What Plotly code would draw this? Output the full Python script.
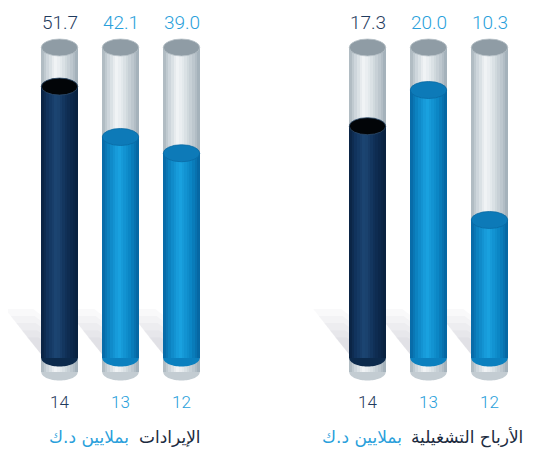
import numpy as np
import plotly.graph_objects as go

# ---------------- data ----------------
years = ["14", "13", "12"]
revenue = [51.7, 42.1, 39.0]          # الإيرادات بملايين د.ك
op_profit = [17.3, 20.0, 10.3]        # الأرباح التشغيلية بملايين د.ك
title_rev = "الإيرادات"
title_op = "الأرباح التشغيلية"
title_unit = "بملايين د.ك"

# ---------------- style / layout (window px, page has 8px body margin) ----------------
PM = 8.0                      # default page body margin
NAVY_TXT = "#1f3b5e"
BLUE_TXT = "#2a9fdb"
DARK_TXT = "#1c2b40"
PLOT_H = 382.0                # plot area height (figure px)
ZERO_PX = 358.0 - PM          # where value 0 sits
TOP_CAP_PX = 47.5 - PM        # tube top cap centre
LABEL_PX = 22.5 - PM          # value label centre
TITLE_PX = 437.0 - PM
SPACING_PX = 61.0
TUBE_W_PX = 36.5
CAP_RY_PX = 8.5
BASE_DROP_PX = 14.0
N_STRIPS = 14

panels = [
    dict(vals=revenue, ppu=5.25, xa="x", ya="y", xdom=[0, 0.5], center0=59.5 - PM,
         title=title_rev, t_right=203 - PM, u_right=131 - PM),
    dict(vals=op_profit, ppu=13.4, xa="x2", ya="y2", xdom=[0.5, 1], center0=367.5 - PM,
         title=title_op, t_right=525 - PM, u_right=404 - PM),
]


def grad(stops, t):
    ts = [s[0] for s in stops]
    cols = np.array([[int(s[1][i:i + 2], 16) for i in (1, 3, 5)] for s in stops], float)
    rgb = [np.interp(t, ts, cols[:, k]) for k in range(3)]
    return "rgb(%d,%d,%d)" % tuple(int(round(c)) for c in rgb)


GRAY = [(0, "#a9b5bd"), (0.15, "#c9d2d8"), (0.38, "#f1f4f6"), (0.55, "#e2e8eb"), (0.85, "#b9c4cb"), (1, "#9fadb6")]
NAVY = [(0, "#0a2240"), (0.2, "#123560"), (0.42, "#1c4673"), (0.7, "#0f2e55"), (1, "#08203d")]
BLUE = [(0, "#0767a3"), (0.2, "#0d85c4"), (0.45, "#1aa2e0"), (0.75, "#0b86c5"), (1, "#05639f")]

fig = go.Figure()
shapes = []
annotations = []

for p in panels:
    ppu = p["ppu"]
    vals = p["vals"]
    xs = list(range(len(vals)))
    W = TUBE_W_PX / SPACING_PX
    rx = W / 2
    ry = CAP_RY_PX / ppu
    tube_max = (ZERO_PX - TOP_CAP_PX) / ppu
    base = -BASE_DROP_PX / ppu
    sw = W / N_STRIPS

    # soft diagonal shadows to the left of each tube
    for f in [1.0, 0.85, 0.7, 0.55, 0.4]:
        for x in xs:
            L = x - rx
            y0 = 2.0 / ppu
            pts = [(L + 0.02, y0), (L - 36 * f / SPACING_PX, y0 + 47 * f / ppu),
                   (L - 8 * f / SPACING_PX, y0 + 47 * f / ppu), (L + 0.02, y0 + 40 * f / ppu)]
            path = "M " + " L ".join("%f,%f" % q for q in pts) + " Z"
            shapes.append(dict(type="path", path=path, xref=p["xa"], yref=p["ya"], layer="below",
                               fillcolor="rgba(90,95,100,0.035)", line=dict(width=0)))

    # gray tube body
    for i in range(N_STRIPS):
        t = (i + 0.5) / N_STRIPS
        fig.add_trace(go.Bar(
            x=xs, y=[tube_max - base] * len(xs), base=base,
            offset=-W / 2 + i * sw, width=sw * (1.25 if i < N_STRIPS - 1 else 1.0),
            marker=dict(color=grad(GRAY, t), line=dict(width=0)),
            xaxis=p["xa"], yaxis=p["ya"], showlegend=False, hoverinfo="skip"))
    # coloured fill body
    for i in range(N_STRIPS):
        t = (i + 0.5) / N_STRIPS
        cols = [grad(NAVY, t) if j == 0 else grad(BLUE, t) for j in xs]
        fig.add_trace(go.Bar(
            x=xs, y=vals, base=0,
            offset=-W / 2 + i * sw, width=sw * (1.25 if i < N_STRIPS - 1 else 1.0),
            marker=dict(color=cols, line=dict(width=0)),
            xaxis=p["xa"], yaxis=p["ya"], showlegend=False, hoverinfo="skip"))

    def half_ell(cx, cy):
        th = np.linspace(np.pi, 2 * np.pi, 40)
        pts = ["%f,%f" % (cx + rx * np.cos(a), cy + ry * np.sin(a)) for a in th]
        return "M " + " L ".join(pts) + " Z"

    for j, (x, v) in enumerate(zip(xs, vals)):
        shapes.append(dict(type="path", path=half_ell(x, base), xref=p["xa"], yref=p["ya"],
                           fillcolor="#c3ccd2", line=dict(width=0)))
        shapes.append(dict(type="path", path=half_ell(x, 0), xref=p["xa"], yref=p["ya"],
                           fillcolor="#0c2a4c" if j == 0 else "#0b80bf", line=dict(width=0)))
        shapes.append(dict(type="circle", xref=p["xa"], yref=p["ya"],
                           x0=x - rx, x1=x + rx, y0=tube_max - ry, y1=tube_max + ry,
                           fillcolor="#8f9ca5", line=dict(color="#b8c2c8", width=0.8)))
        shapes.append(dict(type="circle", xref=p["xa"], yref=p["ya"],
                           x0=x - rx, x1=x + rx, y0=v - ry, y1=v + ry,
                           fillcolor="#020508" if j == 0 else "#0d7ab8",
                           line=dict(color="#2c4a6a" if j == 0 else "#0a6aa3", width=0.8)))
        annotations.append(dict(x=x, y=1 - LABEL_PX / PLOT_H, xref=p["xa"], yref="paper",
                                text="%.1f" % v, showarrow=False, yanchor="middle",
                                font=dict(family="Roboto", size=19, weight=300,
                                          color=NAVY_TXT if j == 0 else BLUE_TXT)))

    ty = (PLOT_H - TITLE_PX) / PLOT_H
    annotations.append(dict(x=p["t_right"] / 540, y=ty, xref="paper", yref="paper",
                            showarrow=False, xanchor="right", yanchor="middle", text=p["title"],
                            font=dict(family="DejaVu Sans", size=17, color=DARK_TXT)))
    annotations.append(dict(x=p["u_right"] / 540, y=ty, xref="paper", yref="paper",
                            showarrow=False, xanchor="right", yanchor="middle", text=title_unit,
                            font=dict(family="DejaVu Sans", size=17, color=BLUE_TXT)))

tick_text = ["<span style='color:%s'>%s</span>" % (NAVY_TXT if j == 0 else BLUE_TXT, y)
             for j, y in enumerate(years)]

span = 270.0 / SPACING_PX
for k, p in enumerate(panels):
    a = -(p["center0"] - p["xdom"][0] * 540) / SPACING_PX
    suffix = "" if k == 0 else "2"
    fig.layout["xaxis" + suffix] = dict(domain=p["xdom"], range=[a, a + span], tickvals=[0, 1, 2],
                                        ticktext=tick_text, showgrid=False, zeroline=False,
                                        showline=False, ticks="", fixedrange=True,
                                        tickfont=dict(family="Roboto", size=17, weight=300),
                                        anchor="y" + suffix)
    fig.layout["yaxis" + suffix] = dict(range=[-(PLOT_H - ZERO_PX) / p["ppu"], ZERO_PX / p["ppu"]],
                                        visible=False, fixedrange=True, anchor="x" + suffix)

fig.update_layout(
    width=540, height=450, margin=dict(l=0, r=0, t=0, b=450 - PLOT_H),
    barmode="overlay", bargap=0, plot_bgcolor="white", paper_bgcolor="white",
    shapes=shapes, annotations=annotations, showlegend=False,
)

fig.write_html("out.html")
